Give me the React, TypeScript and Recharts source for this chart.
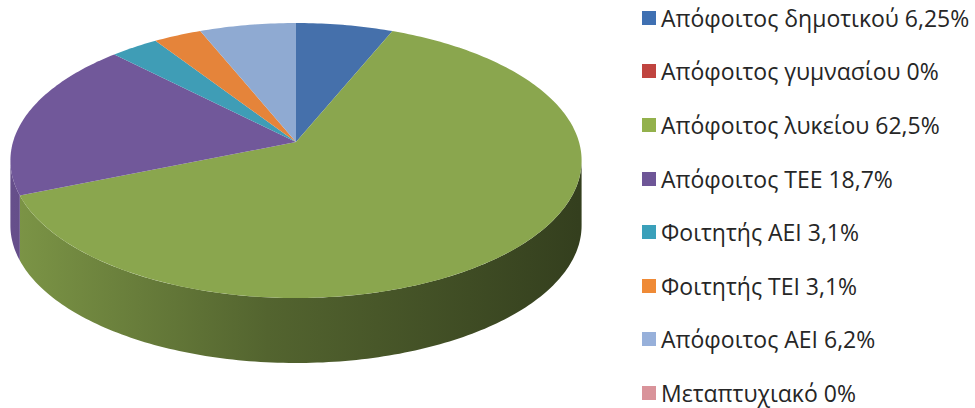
import React from 'react'
import { PieChart, Pie, Cell, Legend } from 'recharts'

const categories = [
  'Απόφοιτος δημοτικού',
  'Απόφοιτος γυμνασίου',
  'Απόφοιτος λυκείου',
  'Απόφοιτος ΤΕΕ',
  'Φοιτητής ΑΕΙ',
  'Φοιτητής ΤΕΙ',
  'Απόφοιτος ΑΕΙ',
  'Μεταπτυχιακό',
]
const percentLabels = ['6,25', '0', '62,5', '18,7', '3,1', '3,1', '6,2', '0']
const percents = [6.25, 0, 62.5, 18.7, 3.1, 3.1, 6.2, 0]
const colors = ['#4570ab', '#be4b48', '#8aa64e', '#71589a', '#3f9db6', '#e5843a', '#8faad2', '#d9938f']
const legendColors = ['#3f70b2', '#c0443f', '#93b14c', '#6e5697', '#3aa0ba', '#ef8a36', '#97b0da', '#d9939a']

const data = categories.map((name, i) => ({
  name,
  label: `${name} ${percentLabels[i]}%`,
  value: percents[i],
  fill: colors[i],
}))

// simple perspective for the tilted disc: vertical squash, perspective strength, wall height
const TILT = 135 / 283
const PERSP = 0.1346
const DEPTH = 65
const RAD = Math.PI / 180

function shade(hex: string, f: number) {
  const n = parseInt(hex.slice(1), 16)
  const c = [(n >> 16) & 255, (n >> 8) & 255, n & 255].map((v) => Math.round(v * f))
  return `rgb(${c.join(',')})`
}

function Slice3D(props: any) {
  const { cx, cy, outerRadius: r, startAngle, endAngle, fill, index } = props
  // recharts angles -> clockwise from 12 o'clock
  const p1 = 90 - Math.max(startAngle, endAngle)
  const p2 = 90 - Math.min(startAngle, endAngle)
  if (p2 - p1 <= 0.001) return null
  const ry = r * TILT
  const pt = (phi: number, dy = 0) => {
    const u = Math.sin(phi * RAD)
    const v = -Math.cos(phi * RAD)
    const w = 1 - PERSP * v
    return `${(cx + (r * u) / w).toFixed(2)},${(cy + (ry * v) / w + dy).toFixed(2)}`
  }
  const arc = (a: number, b: number, dy = 0) => {
    const n = Math.max(2, Math.ceil(Math.abs(b - a)))
    const out: string[] = []
    for (let i = 0; i <= n; i++) out.push(pt(a + ((b - a) * i) / n, dy))
    return out
  }
  const top = `M${cx},${cy} L${arc(p1, p2).join(' L')} Z`

  // wall only for the part of the rim that faces the viewer
  const edge = Math.acos(-PERSP) / RAD
  const s = Math.max(p1, edge)
  const e = Math.min(p2, 360 - edge)
  let wall: string | null = null
  if (e > s) {
    wall = `M${arc(s, e).join(' L')} L${arc(e, s, DEPTH).join(' L')} Z`
  }
  const gid = `wall-${index}`
  return (
    <g>
      {wall && (
        <>
          <defs>
            <linearGradient id={gid} gradientUnits="userSpaceOnUse" x1={cx - r} y1={0} x2={cx + r} y2={0}>
              <stop offset="0%" stopColor={shade(fill, 0.9)} />
              <stop offset="45%" stopColor={shade(fill, 0.6)} />
              <stop offset="100%" stopColor={shade(fill, 0.38)} />
            </linearGradient>
          </defs>
          <path d={wall} fill={`url(#${gid})`} stroke="none" />
        </>
      )}
      <path d={top} fill={fill} stroke="none" />
    </g>
  )
}

function LegendList() {
  return (
    <ul style={{ margin: 0, padding: 0, listStyle: 'none' }}>
      {data.map((d, i) => (
        <li
          key={i}
          style={{
            height: 53.6,
            display: 'flex',
            alignItems: 'center',
            fontFamily: '"Open Sans", sans-serif',
            fontSize: 23,
            color: '#262626',
            whiteSpace: 'nowrap',
          }}
        >
          <span
            style={{
              width: 14,
              height: 14,
              background: legendColors[i],
              marginRight: 5,
              flex: 'none',
            }}
          />
          {d.label}
        </li>
      ))}
    </ul>
  )
}

export default function App() {
  return (
    <div style={{ position: 'absolute', left: 0, top: 0, width: 975, height: 408, background: '#fff' }}>
      <PieChart width={975} height={408} margin={{ top: 0, right: 0, bottom: 0, left: 0 }}>
        <Pie
          data={data}
          dataKey="value"
          nameKey="name"
          cx={296}
          cy={142}
          outerRadius={283}
          startAngle={90}
          endAngle={-270}
          stroke="none"
          isAnimationActive={false}
          shape={Slice3D}
          activeShape={Slice3D}
          inactiveShape={Slice3D}
        >
          {data.map((d, i) => (
            <Cell key={i} fill={d.fill} />
          ))}
        </Pie>
        <Legend
          layout="vertical"
          align="right"
          verticalAlign="top"
          wrapperStyle={{ left: 642, top: -9, width: 333 }}
          content={LegendList}
        />
      </PieChart>
    </div>
  )
}
